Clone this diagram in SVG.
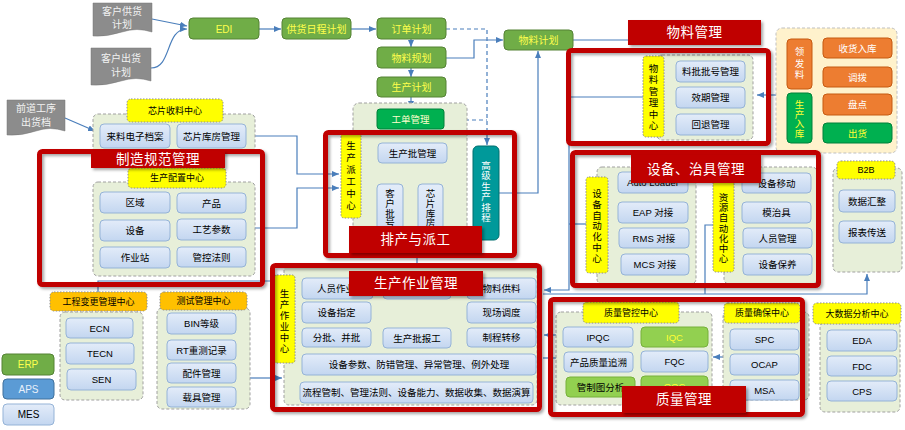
<svg xmlns="http://www.w3.org/2000/svg" width="905" height="430" viewBox="0 0 905 430">
<defs>
<linearGradient id="gb" x1="0" y1="0" x2="0" y2="1"><stop offset="0" stop-color="#e3ecf9"/><stop offset="1" stop-color="#c3d6f0"/></linearGradient>
<marker id="ar" markerWidth="7" markerHeight="6" refX="7" refY="3" orient="auto" markerUnits="userSpaceOnUse"><path d="M0,0 L7,3 L0,6 z" fill="#4a7ebb"/></marker>
<filter id="sh" x="-10%" y="-10%" width="130%" height="140%"><feDropShadow dx="2" dy="2" stdDeviation="1.5" flood-color="#000" flood-opacity="0.35"/></filter>
</defs>
<style>
text{font-family:"Liberation Sans","Noto Sans CJK SC",sans-serif;font-size:9.5px;text-anchor:middle;dominant-baseline:central;fill:#000}
.b{fill:url(#gb);stroke:#95b3d7;stroke-width:1}
.g{fill:#70ad47;stroke:#548235;stroke-width:1}
.gt{fill:#ffff4d;font-size:10px}
.dg{fill:#00b050;stroke:#00803a;stroke-width:1}
.lg{fill:#92d050;stroke:#76b03a;stroke-width:1}
.or{fill:#ed7d31;stroke:#c55a11;stroke-width:1}
.wt{fill:#fff}
.yt{fill:#ffff33}
.c{fill:#e7efd9;stroke:#a0a0a0;stroke-width:1;stroke-dasharray:3,2}
.y{fill:#ffff00;stroke:#8c8c8c;stroke-width:1;stroke-dasharray:1.5,1.5}
.oh{fill:#ffc000;stroke:#8c8c8c;stroke-width:1;stroke-dasharray:1.5,1.5}
.doc{fill:#8c8c8c;stroke:#777;stroke-width:0.5}
.dt{fill:#f2f2f2;font-size:10px}
.rb{fill:none;stroke:#c00000;stroke-width:5;filter:url(#sh)}
.bn{fill:#c00000;filter:url(#sh)}
.bt{fill:#fff;font-size:13.5px;letter-spacing:0.5px}
.ln{fill:none;stroke:#4a7ebb;stroke-width:1.2}
.ds{stroke-dasharray:4,3}
.h{font-size:9px}
</style>
<rect width="905" height="430" fill="#fff"/>

<!-- connectors -->
<g id="connectors">
<path class="ln" d="M152 19 L187 26" marker-end="url(#ar)"/>
<path class="ln" d="M151 68 C172 68 165 29 187 29" marker-end="url(#ar)"/>
<path class="ln" d="M259 29 H281" marker-end="url(#ar)"/>
<path class="ln" d="M351 29 H376" marker-end="url(#ar)"/>
<path class="ln" d="M411 39 V47" marker-end="url(#ar)"/>
<path class="ln" d="M411 68 V77" marker-end="url(#ar)"/>
<path class="ln" d="M411 97 V108" marker-end="url(#ar)"/>
<path class="ln" d="M411 129 V142" marker-end="url(#ar)"/>
<path class="ln" d="M413 163 V173 H390 V183" marker-end="url(#ar)"/>
<path class="ln" d="M413 173 H431 V183" marker-end="url(#ar)"/>
<path class="ln ds" d="M446 29 H487 V145" marker-end="url(#ar)"/>
<path class="ln ds" d="M444 120 H487"/>
<path class="ln" d="M446 58 H474 V40 H503" marker-end="url(#ar)"/>
<path class="ln" d="M499 193 H538 V51" marker-end="url(#ar)"/>
<path class="ln" d="M573 40 H628"/>
<path class="ln" d="M569 40 V290 H544" marker-end="url(#ar)"/>
<path class="ln" d="M571 97 H643"/>
<path class="ln" d="M776 95 H757" marker-end="url(#ar)"/>
<path class="ln" d="M569 224 H586"/>
<path class="ln" d="M713 225 H705 V294"/>
<path class="ln" d="M543 294 H867 V274" marker-end="url(#ar)"/>
<path class="ln" d="M556 335 H544" marker-end="url(#ar)"/>
<path class="ln" d="M543 358 H556"/>
<path class="ln" d="M723 357 H713" marker-end="url(#ar)"/>
<path class="ln" d="M246 136 H297 V174 H339" marker-end="url(#ar)"/>
<path class="ln" d="M255 228 H297 V188 H339" marker-end="url(#ar)"/>
<path class="ln" d="M98 292 V281 H272"/>
<path class="ln" d="M250 378 H282" marker-end="url(#ar)"/>
<path class="ln" d="M65 118 L95 131" marker-end="url(#ar)"/>
<path class="ln" d="M390 250 V258"/>
<path class="ln" d="M431 250 V258"/>
<path class="ln" d="M417 250 V327" marker-end="url(#ar)"/>
<path class="ln" d="M376 297 V337 H371"/>
<path class="ln" d="M371 313 H376"/>
<path class="ln" d="M459 297 V313 H467"/>
<path class="ln" d="M451 337 H466" marker-end="url(#ar)"/>
</g>

<!-- documents -->
<g id="doc-supply"><path class="doc" d="M93 3 H152 V32 Q137 27 122 32 T93 36 Z"/><text class="dt" x="122" y="11">客户供货</text><text class="dt" x="122" y="24">计划</text></g>
<g id="doc-ship"><path class="doc" d="M91 48 H151 V81 Q136 76 121 81 T91 85 Z"/><text class="dt" x="121" y="58">客户出货</text><text class="dt" x="121" y="72">计划</text></g>
<g id="doc-front"><path class="doc" d="M7 100 H65 V131 Q50 126 36 131 T7 135 Z"/><text class="dt" x="36" y="108">前道工序</text><text class="dt" x="36" y="122">出货档</text></g>

<!-- top planning chain -->
<g id="edi"><rect class="g" x="189" y="18" width="70" height="21" rx="4"/><text class="gt" x="224" y="29">EDI</text></g>
<g id="supply-plan"><rect class="g" x="282" y="18" width="69" height="21" rx="4"/><text class="gt" x="316.5" y="29">供货日程计划</text></g>
<g id="order-plan"><rect class="g" x="377" y="18" width="69" height="21" rx="4"/><text class="gt" x="411.5" y="29">订单计划</text></g>
<g id="mat-rule"><rect class="g" x="377" y="47" width="69" height="21" rx="4"/><text class="gt" x="411.5" y="58">物料规划</text></g>
<g id="prod-plan"><rect class="g" x="377" y="77" width="69" height="20" rx="4"/><text class="gt" x="411.5" y="87">生产计划</text></g>
<g id="mat-plan"><rect class="g" x="504" y="30" width="69" height="20" rx="4"/><text class="gt" x="538.5" y="40">物料计划</text></g>

<!-- 芯片收料中心 -->
<g id="chip-recv">
<rect class="c" x="93" y="114" width="162" height="38" rx="5"/>
<rect class="y" x="127" y="99" width="96" height="23" rx="4"/><text class="h" x="175" y="110.5">芯片收料中心</text>
<rect class="b" x="100" y="124" width="70" height="24" rx="4"/><text x="135" y="136">来料电子档案</text>
<rect class="b" x="177" y="124" width="69" height="24" rx="4"/><text x="211.5" y="136">芯片库房管理</text>
</g>

<!-- 生产配置中心 -->
<g id="prod-config">
<rect class="c" x="93" y="182" width="162" height="94" rx="5"/>
<rect class="y" x="128" y="168" width="98" height="20" rx="4"/><text class="h" x="177" y="178">生产配置中心</text>
<rect class="b" x="100" y="192" width="70" height="21" rx="4"/><text x="135" y="202.5">区域</text>
<rect class="b" x="177" y="193" width="69" height="20" rx="4"/><text x="211.5" y="203">产品</text>
<rect class="b" x="100" y="220" width="70" height="21" rx="4"/><text x="135" y="230.5">设备</text>
<rect class="b" x="177" y="219" width="69" height="21" rx="4"/><text x="211.5" y="229.5">工艺参数</text>
<rect class="b" x="100" y="247" width="70" height="21" rx="4"/><text x="135" y="257.5">作业站</text>
<rect class="b" x="177" y="247" width="69" height="20" rx="4"/><text x="211.5" y="257">管控法则</text>
</g>

<!-- 排产与派工 -->
<g id="dispatch">
<rect class="c" x="353" y="103" width="114" height="152" rx="6"/>
<rect class="dg" x="377" y="109" width="67" height="20" rx="3"/><text x="410.5" y="119" fill="#ffffcc" style="fill:#ffffcc">工单管理</text>
<rect class="y" x="341" y="133" width="20" height="85" rx="3"/>
<text x="351" y="145"><tspan x="351" y="145">生</tspan><tspan x="351" y="157">产</tspan><tspan x="351" y="169">派</tspan><tspan x="351" y="181">工</tspan><tspan x="351" y="193">中</tspan><tspan x="351" y="205">心</tspan></text>
<rect class="b" x="378" y="143" width="69" height="20" rx="4"/><text x="412.5" y="153">生产批管理</text>
<rect class="b" x="377" y="184" width="26" height="66" rx="4"/>
<text x="390" y="193"><tspan x="390" y="193">客</tspan><tspan x="390" y="203">户</tspan><tspan x="390" y="212.5">批</tspan><tspan x="390" y="222">号</tspan></text>
<rect class="b" x="418" y="184" width="25" height="66" rx="4"/>
<text x="430.5" y="193"><tspan x="430.5" y="193">芯</tspan><tspan x="430.5" y="203">片</tspan><tspan x="430.5" y="212.5">库</tspan><tspan x="430.5" y="222">房</tspan></text>
<rect x="473" y="146" width="26" height="94" rx="5" fill="#00999a" stroke="#006f6f"/>
<text class="wt" x="486" y="165"><tspan x="486" y="165">高</tspan><tspan x="486" y="175.4">级</tspan><tspan x="486" y="185.8">生</tspan><tspan x="486" y="196.2">产</tspan><tspan x="486" y="206.6">排</tspan><tspan x="486" y="217">程</tspan></text>
</g>

<!-- 物料管理中心 -->
<g id="mat-center">
<rect class="c" x="657" y="55" width="96" height="85" rx="5"/>
<rect class="y" x="643" y="56" width="21" height="81" rx="3"/>
<text x="653.5" y="68"><tspan x="653.5" y="68">物</tspan><tspan x="653.5" y="79.4">料</tspan><tspan x="653.5" y="90.8">管</tspan><tspan x="653.5" y="102.2">理</tspan><tspan x="653.5" y="113.6">中</tspan><tspan x="653.5" y="125">心</tspan></text>
<rect class="b" x="676" y="61" width="69" height="21" rx="4"/><text x="710.5" y="71.5">料批批号管理</text>
<rect class="b" x="676" y="87" width="69" height="21" rx="4"/><text x="710.5" y="97.5">效期管理</text>
<rect class="b" x="676" y="114" width="69" height="21" rx="4"/><text x="710.5" y="124.5">回退管理</text>
</g>

<!-- warehouse -->
<g id="warehouse">
<rect x="776" y="28" width="121" height="125" rx="6" fill="#fff2cc" stroke="#bfbfbf" stroke-dasharray="3,2"/>
<rect class="or" x="787" y="39" width="25" height="50" rx="4"/>
<text class="wt" x="799.5" y="51"><tspan x="799.5" y="51">领</tspan><tspan x="799.5" y="62.5">发</tspan><tspan x="799.5" y="74">料</tspan></text>
<rect class="dg" x="787" y="93" width="25" height="50" rx="4"/>
<text class="yt" x="799.5" y="104"><tspan x="799.5" y="104">生</tspan><tspan x="799.5" y="113.5">产</tspan><tspan x="799.5" y="123">入</tspan><tspan x="799.5" y="132.5">库</tspan></text>
<rect class="or" x="823" y="38" width="69" height="20" rx="4"/><text class="wt" x="857.5" y="48">收货入库</text>
<rect class="or" x="823" y="67" width="69" height="20" rx="4"/><text class="wt" x="857.5" y="77">调拨</text>
<rect class="or" x="823" y="94" width="69" height="21" rx="4"/><text class="wt" x="857.5" y="104.5">盘点</text>
<rect class="dg" x="823" y="123" width="69" height="20" rx="4"/><text class="yt" x="857.5" y="133">出货</text>
</g>

<!-- 设备自动化中心 -->
<g id="equip-auto">
<rect class="c" x="597" y="167" width="99" height="117" rx="5"/>
<rect class="y" x="586" y="177" width="22" height="96" rx="3"/>
<text x="597" y="193"><tspan x="597" y="193">设</tspan><tspan x="597" y="203.8">备</tspan><tspan x="597" y="214.6">自</tspan><tspan x="597" y="225.4">动</tspan><tspan x="597" y="236.2">化</tspan><tspan x="597" y="247">中</tspan><tspan x="597" y="257.8">心</tspan></text>
<rect class="b" x="618" y="172" width="70" height="21" rx="4"/><text x="653" y="182.5">Auto Loader</text>
<rect class="b" x="618" y="202" width="70" height="21" rx="4"/><text x="653" y="212.5">EAP 对接</text>
<rect class="b" x="619" y="228" width="70" height="20" rx="4"/><text x="654" y="238">RMS 对接</text>
<rect class="b" x="621" y="254" width="68" height="21" rx="4"/><text x="655" y="264.5">MCS 对接</text>
</g>

<!-- 资源自动化中心 -->
<g id="res-auto">
<rect class="c" x="724" y="167" width="93" height="117" rx="5"/>
<rect class="y" x="713" y="179" width="21" height="93" rx="3"/>
<text x="723.5" y="197"><tspan x="723.5" y="197">资</tspan><tspan x="723.5" y="207.2">源</tspan><tspan x="723.5" y="217.3">自</tspan><tspan x="723.5" y="227.5">动</tspan><tspan x="723.5" y="237.7">化</tspan><tspan x="723.5" y="247.8">中</tspan><tspan x="723.5" y="258">心</tspan></text>
<rect class="b" x="742" y="173" width="69" height="20" rx="4"/><text x="776.5" y="183">设备移动</text>
<rect class="b" x="742" y="202" width="69" height="21" rx="4"/><text x="776.5" y="212.5">模治具</text>
<rect class="b" x="743" y="228" width="69" height="20" rx="4"/><text x="777.5" y="238">人员管理</text>
<rect class="b" x="743" y="254" width="69" height="21" rx="4"/><text x="777.5" y="264.5">设备保养</text>
</g>

<!-- B2B -->
<g id="b2b">
<rect class="c" x="833" y="168" width="69" height="104" rx="5"/>
<rect class="y" x="837" y="161" width="58" height="18" rx="4"/><text class="h" x="866" y="170">B2B</text>
<rect class="b" x="839" y="190" width="56" height="22" rx="4"/><text x="867" y="201">数据汇整</text>
<rect class="b" x="839" y="221" width="56" height="22" rx="4"/><text x="867" y="232">报表传送</text>
</g>

<!-- 生产作业中心 -->
<g id="prod-op">
<rect class="c" x="284" y="266" width="253" height="139" rx="5"/>
<rect class="y" x="274" y="275" width="21" height="88" rx="3"/>
<text x="284.5" y="293"><tspan x="284.5" y="293">生</tspan><tspan x="284.5" y="304">产</tspan><tspan x="284.5" y="315">作</tspan><tspan x="284.5" y="326">业</tspan><tspan x="284.5" y="337">中</tspan><tspan x="284.5" y="348">心</tspan></text>
<rect class="b" x="302" y="278" width="71" height="21" rx="4"/><text x="317" y="288.5" style="text-anchor:start">人员作业</text>
<rect class="b" x="383" y="278" width="68" height="21" rx="4"/>
<rect class="b" x="467" y="278" width="69" height="21" rx="4"/><text x="501.5" y="288.5">物料供料</text>
<rect class="b" x="302" y="302" width="69" height="21" rx="4"/><text x="336.5" y="312.5">设备指定</text>
<rect class="b" x="467" y="302" width="69" height="21" rx="4"/><text x="501.5" y="312.5">现场调度</text>
<rect class="b" x="302" y="328" width="69" height="19" rx="4"/><text x="336.5" y="337.5">分批、并批</text>
<rect class="b" x="383" y="328" width="68" height="20" rx="4"/><text x="417" y="338">生产批报工</text>
<rect class="b" x="467" y="328" width="69" height="19" rx="4"/><text x="501.5" y="337.5">制程转移</text>
<rect class="b" x="302" y="354" width="234" height="21" rx="4"/><text x="419" y="364.5">设备参数、防错管理、异常管理、例外处理</text>
<rect class="b" x="300" y="382" width="233" height="21" rx="4"/><text x="416.5" y="392.5">流程管制、管理法则、设备能力、数据收集、数据演算</text>
</g>

<!-- 工程变更管理中心 -->
<g id="eng-change">
<rect class="c" x="60" y="312" width="83" height="88" rx="5"/>
<rect class="oh" x="50" y="292" width="97" height="19" rx="4"/><text class="h" x="98.5" y="301.5">工程变更管理中心</text>
<rect class="b" x="66" y="318" width="67" height="20" rx="4"/><text x="99.5" y="328">ECN</text>
<rect class="b" x="66" y="343" width="68" height="21" rx="4"/><text x="100" y="353.5">TECN</text>
<rect class="b" x="67" y="369" width="69" height="21" rx="4"/><text x="101.5" y="379.5">SEN</text>
</g>

<!-- 测试管理中心 -->
<g id="test-center">
<rect class="c" x="157" y="308" width="93" height="101" rx="5"/>
<rect class="oh" x="160" y="292" width="87" height="18" rx="4"/><text class="h" x="203.5" y="301">测试管理中心</text>
<rect class="b" x="167" y="313" width="69" height="21" rx="4"/><text x="201.5" y="323.5">BIN等级</text>
<rect class="b" x="167" y="340" width="69" height="20" rx="4"/><text x="201.5" y="350">RT重测记录</text>
<rect class="b" x="167" y="363" width="69" height="20" rx="4"/><text x="201.5" y="373">配件管理</text>
<rect class="b" x="167" y="387" width="69" height="20" rx="4"/><text x="201.5" y="397">载具管理</text>
</g>

<!-- legend -->
<g id="legend">
<rect class="g" x="2" y="354" width="52" height="21" rx="4"/><text class="gt" x="28" y="364.5">ERP</text>
<rect x="3" y="379" width="51" height="20" rx="4" fill="#5b9bd5" stroke="#41719c"/><text x="28.5" y="389" style="fill:#e8f0fa;font-size:10px">APS</text>
<rect class="b" x="3" y="404" width="51" height="21" rx="4"/><text x="28.5" y="414.5" style="font-size:10px">MES</text>
</g>

<!-- 质量管控中心 -->
<g id="qc-center">
<rect class="c" x="556" y="312" width="156" height="93" rx="5"/>
<rect class="y" x="583" y="302" width="96" height="21" rx="4"/><text class="h" x="631" y="312.5">质量管控中心</text>
<rect class="b" x="563" y="327" width="70" height="20" rx="4"/><text x="598" y="337">IPQC</text>
<rect class="lg" x="641" y="327" width="67" height="20" rx="4"/><text class="yt" x="674.5" y="337">IQC</text>
<rect class="b" x="564" y="352" width="69" height="20" rx="4"/><text x="598.5" y="362">产品质量追溯</text>
<rect class="b" x="641" y="351" width="67" height="21" rx="4"/><text x="674.5" y="361.5">FQC</text>
<rect class="lg" x="566" y="377" width="69" height="20" rx="4"/><text x="600.5" y="387">管制图分析</text>
<rect class="lg" x="641" y="376" width="67" height="20" rx="4"/><text class="yt" x="674.5" y="386">OQC</text>
</g>

<!-- 质量确保中心 -->
<g id="qa-center">
<rect class="c" x="723" y="312" width="86" height="88" rx="5"/>
<rect class="y" x="724" y="303" width="76" height="20" rx="4"/><text class="h" x="762" y="313">质量确保中心</text>
<rect class="b" x="730" y="329" width="69" height="21" rx="4"/><text x="764.5" y="339.5">SPC</text>
<rect class="b" x="730" y="354" width="69" height="21" rx="4"/><text x="764.5" y="364.5">OCAP</text>
<rect class="b" x="730" y="380" width="69" height="20" rx="4"/><text x="764.5" y="390">MSA</text>
</g>

<!-- 大数据分析中心 -->
<g id="bigdata">
<rect class="c" x="820" y="322" width="80" height="90" rx="5"/>
<rect class="y" x="813" y="303" width="88" height="21" rx="4"/><text class="h" x="857" y="313.5">大数据分析中心</text>
<rect class="b" x="827" y="330" width="70" height="21" rx="4"/><text x="862" y="340.5">EDA</text>
<rect class="b" x="827" y="356" width="70" height="20" rx="4"/><text x="862" y="366">FDC</text>
<rect class="b" x="827" y="381" width="70" height="20" rx="4"/><text x="862" y="391">CPS</text>
</g>

<!-- red frames and banners -->
<g id="frame-mfg"><rect class="rb" x="39.5" y="151.5" width="223" height="133" rx="3"/><rect class="bn" x="91" y="151" width="134" height="17"/><text class="bt" x="158" y="159.5">制造规范管理</text></g>
<g id="frame-dispatch"><rect class="rb" x="325.5" y="132.5" width="189" height="123" rx="3"/><rect class="bn" x="349" y="226" width="133" height="27"/><text class="bt" x="415.5" y="239.5">排产与派工</text></g>
<g id="frame-mat"><rect class="rb" x="568.5" y="50.5" width="200" height="93" rx="3"/><rect class="bn" x="628" y="20" width="133" height="25"/><text class="bt" x="694.5" y="32.5">物料管理</text></g>
<g id="frame-equip"><rect class="rb" x="572.5" y="152.5" width="246" height="133" rx="3"/><rect class="bn" x="631" y="155" width="130" height="28"/><text class="bt" x="696" y="169">设备、治具管理</text></g>
<g id="frame-prod"><rect class="rb" x="272.5" y="265.5" width="267" height="144" rx="3"/><rect class="bn" x="349" y="271" width="134" height="25"/><text class="bt" x="416" y="283.5">生产作业管理</text></g>
<g id="frame-quality"><rect class="rb" x="550.5" y="299.5" width="252" height="115" rx="3"/><rect class="bn" x="622" y="386" width="124" height="27"/><text class="bt" x="684" y="399.5">质量管理</text></g>
</svg>
